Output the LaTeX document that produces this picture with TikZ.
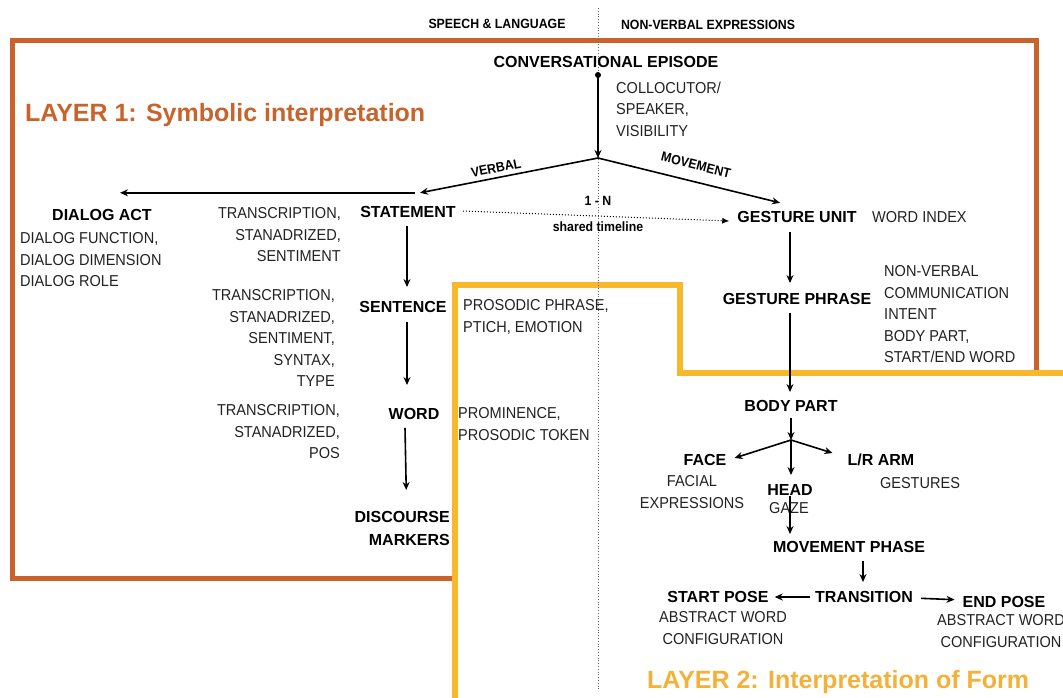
\documentclass[tikz,border=0pt]{standalone}
\usepackage{fontspec}
\setmainfont{Liberation Sans}
\newfontfamily\nfont{Liberation Sans}[FakeStretch=0.92]
\usetikzlibrary{arrows.meta}
\definecolor{lorange}{HTML}{C8632B}
\definecolor{lyellow}{HTML}{F7B82B}
\definecolor{ltwo}{HTML}{F3B13A}
\definecolor{atxt}{HTML}{222222}
\begin{document}
\begin{tikzpicture}[x=1pt,y=-1pt,
  bnode/.style={font=\fontsize{16}{23}\selectfont\bfseries, inner sep=0pt, text height=11.5pt, text depth=0pt},
  bmulti/.style={font=\fontsize{16}{23}\selectfont\bfseries, inner sep=0pt},
  attr/.style={font=\nfont\fontsize{15.8}{21.5}\selectfont, inner sep=0pt, text=atxt},
  hdr/.style={font=\nfont\fontsize{13.4}{16}\selectfont\bfseries, inner sep=0pt},
  small/.style={font=\nfont\fontsize{13.4}{16}\selectfont\bfseries, inner sep=0pt},
  arr/.style={line width=1.6pt, -{Stealth[length=8pt,width=7pt]}},
  dotarr/.style={line width=1pt, dotted, -{Latex[length=7pt,width=6pt]}},
  layer/.style={font=\fontsize{25}{28}\selectfont\bfseries, inner sep=0pt}
]
\useasboundingbox (0,0) rectangle (1063,697);
\fill[white] (0,0) rectangle (1063,697);
% layer 1 frame
\draw[lorange, line width=5pt] (12,40) rectangle (1036,578);
% layer 2 frame (white inside)
\filldraw[draw=lyellow, fill=white, line width=6pt] (455,705) -- (455,285) -- (680,285) -- (680,373) -- (1075,373) -- (1075,705) -- cycle;
% divider
\draw[gray!80!black, dotted, line width=0.8pt] (598,8) -- (598,690);

% headers
\node[hdr] (hsp) at (497,24) {SPEECH \& LANGUAGE};
\node[hdr] (hnv) at (708,25) {NON-VERBAL EXPRESSIONS};
\node[layer, text=lorange, anchor=base west] (l1) at (25,121) {LAYER 1: Symbolic interpretation};
\node[layer, text=ltwo, anchor=base west] (l2) at (647,688) {LAYER 2: Interpretation of Form};

% main nodes
\node[bnode] (ep) at (606,62) {CONVERSATIONAL EPISODE};
\node[attr, anchor=north west, align=left] (epa) at (616,81.5) {COLLOCUTOR/\\SPEAKER,\\VISIBILITY};
\coordinate (br) at (598,158);

\node[bnode] (da) at (102,215) {DIALOG ACT};
\node[attr, anchor=north west, align=left] (daa) at (20,232.5) {DIALOG FUNCTION,\\DIALOG DIMENSION\\DIALOG ROLE};

\node[bnode] (st) at (408,212) {STATEMENT};
\node[attr, anchor=north east, align=right] (sta) at (341,207.5) {TRANSCRIPTION,\\STANADRIZED,\\SENTIMENT};

\node[bnode] (se) at (403,307) {SENTENCE};
\node[attr, anchor=north east, align=right] (sea) at (335,289.5) {TRANSCRIPTION,\\STANADRIZED,\\SENTIMENT,\\SYNTAX,\\TYPE};
\node[attr, anchor=north west, align=left] (seb) at (463,299.5) {PROSODIC PHRASE,\\PTICH, EMOTION};

\node[bnode] (wo) at (414,414) {WORD};
\node[attr, anchor=north east, align=right] (woa) at (340,404.5) {TRANSCRIPTION,\\STANADRIZED,\\POS};
\node[attr, anchor=north west, align=left] (wob) at (458,407.5) {PROMINENCE,\\PROSODIC TOKEN};

\node[bmulti, anchor=north east, align=right] (dm) at (450,511) {DISCOURSE\\MARKERS};

\node[bnode] (gu) at (797,217) {GESTURE UNIT};
\node[attr, anchor=west] (gua) at (872,217) {WORD INDEX};
\node[bnode] (gp) at (797,299) {GESTURE PHRASE};
\node[attr, anchor=north west, align=left] (gpa) at (884,265.5) {NON-VERBAL\\COMMUNICATION\\INTENT\\BODY PART,\\START/END WORD};

\node[bnode] (bp) at (791,406) {BODY PART};
\coordinate (br2) at (791,440);
\node[bnode] (fa) at (705,460) {FACE};
\node[attr, anchor=north, align=center] (faa) at (692,475.5) {FACIAL\\EXPRESSIONS};
\node[bnode] (hd) at (790,490) {HEAD};
\node[attr] (hda) at (789,508) {GAZE};
\node[bnode] (ar) at (881,460) {L/R ARM};
\node[attr] (ara) at (920,483) {GESTURES};

\node[bnode] (mp) at (849,547) {MOVEMENT PHASE};
\node[bnode] (tr) at (864,597) {TRANSITION};
\node[bnode] (sp) at (718,597) {START POSE};
\node[attr, anchor=north, align=center] (spa) at (723,611.5) {ABSTRACT WORD\\CONFIGURATION};
\node[bnode] (epo) at (1004,602) {END POSE};
\node[attr, anchor=north west, align=center] (epoa) at (937,614.5) {ABSTRACT WORD\\CONFIGURATION};

% connectors
\fill (598,75) circle (3pt);
\draw[arr] ([xshift=-8pt,yshift=-7.25pt]ep.south) -- (br);
\coordinate (vtip) at ([xshift=12pt,yshift=13.25pt]st.north);
\draw[arr] (br) -- (vtip);
\draw[arr] ([xshift=-5pt]vtip) -- ([xshift=18pt,yshift=16.25pt]da.north);
\draw[arr] (br) -- ([xshift=-17pt,yshift=8.25pt]gu.north);
\node[small, rotate=11] (vl) at (496,168) {VERBAL};
\node[small, rotate=-14] (ml) at (696,165) {MOVEMENT};

\draw[dotarr] ([xshift=7pt,yshift=1pt]st.east) -- ([xshift=-8pt,yshift=-4pt]gu.west);
\node[small] (one) at (598,201) {1 - N};
\node[small] (shl) at (598,227) {shared timeline};

\draw[arr] ([xshift=-1pt,yshift=-8pt]st.south) -- ([xshift=4pt,yshift=14pt]se.north);
\draw[arr] ([xshift=4pt,yshift=-9pt]se.south) -- ([xshift=-7pt,yshift=23pt]wo.north);
\draw[arr] ([xshift=-9pt,yshift=-8pt]wo.south) -- ([xshift=4pt,yshift=21pt]dm.north);

\draw[arr] ([xshift=-7pt,yshift=-9pt]gu.south) -- ([xshift=-7pt,yshift=10pt]gp.north);
\draw[arr] ([xshift=-7pt,yshift=-8pt]gp.south) -- ([xshift=-1pt,yshift=8pt]bp.north);
\draw[arr] ([yshift=-6pt]bp.south) -- (br2);
\draw[arr] (br2) -- ([xshift=8pt,yshift=2pt]fa.east);
\draw[arr] (br2) -- ([xshift=-15pt,yshift=7pt]ar.west);
\draw[arr] (br2) -- ([xshift=1pt,yshift=9pt]hd.north);
\draw[arr] (hd.south) -- ([xshift=-59pt,yshift=7pt]mp.north);
\draw[arr] ([xshift=14pt,yshift=-8pt]mp.south) -- ([xshift=-1pt,yshift=9pt]tr.north);
\draw[arr, shorten <=5pt, shorten >=6pt] (tr.west) -- (sp.east);
\draw[arr, shorten <=8pt, shorten >=8pt] ([yshift=-1pt]tr.east) -- ([yshift=2pt]epo.west);
\end{tikzpicture}
\end{document}
